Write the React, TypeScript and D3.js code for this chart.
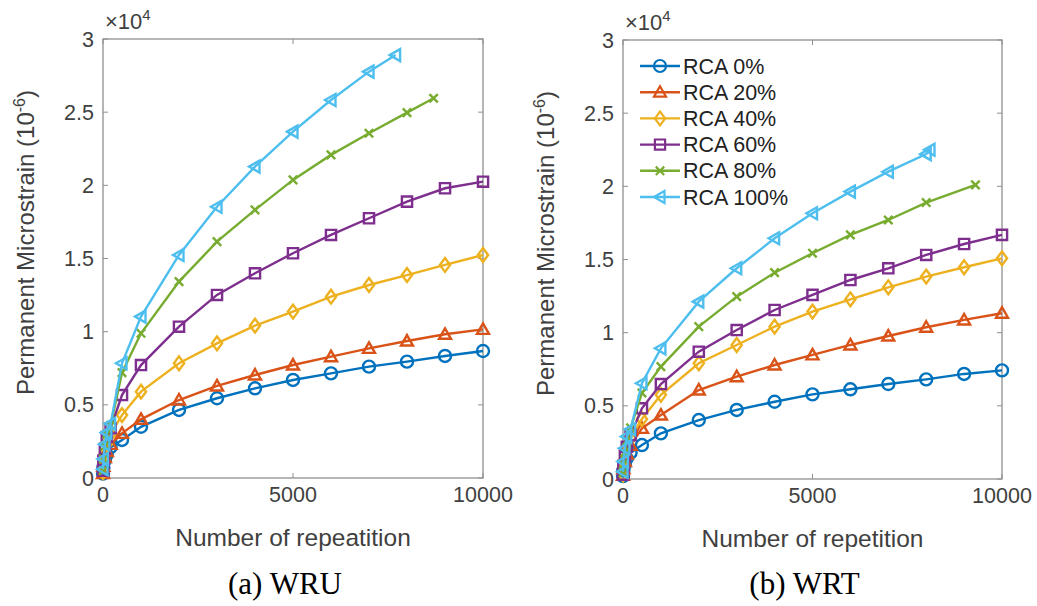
import React from "react";
import * as d3 from "d3";

// repetition counts (x values)
const reps = [1, 10, 50, 100, 200, 500, 1000, 2000, 3000, 4000, 5000, 6000, 7000, 8000, 9000, 10000];
const repsWru80 = [1, 10, 50, 100, 200, 500, 1000, 2000, 3000, 4000, 5000, 6000, 7000, 8000, 8700];
const repsWru100 = [1, 10, 50, 100, 200, 500, 1000, 2000, 3000, 4000, 5000, 6000, 7000, 7700];
const repsWrt80 = [1, 10, 50, 100, 200, 500, 1000, 2000, 3000, 4000, 5000, 6000, 7000, 8000, 9300];
const repsWrt100 = [1, 10, 50, 100, 200, 500, 1000, 2000, 3000, 4000, 5000, 6000, 7000, 8000, 8100];

// (a) WRU permanent microstrain
const wru0 = [300, 700, 1200, 1600, 2100, 2600, 3500, 4650, 5450, 6130, 6700, 7150, 7610, 7950, 8340, 8680];
const wru20 = [300, 800, 1400, 1800, 2300, 3050, 4010, 5330, 6290, 7040, 7720, 8290, 8860, 9360, 9820, 10160];
const wru40 = [400, 1000, 1700, 2300, 3000, 4300, 5900, 7840, 9200, 10410, 11370, 12390, 13190, 13870, 14560, 15240];
const wru60 = [500, 1200, 2000, 2800, 3400, 5670, 7720, 10340, 12510, 13990, 15360, 16610, 17750, 18890, 19800, 20250];
const wru80 = [500, 1300, 2200, 3000, 3600, 7200, 9890, 13420, 16150, 18320, 20370, 22080, 23560, 24970, 25950];
const wru100 = [600, 1300, 2300, 3100, 3700, 7840, 11030, 15240, 18540, 21280, 23670, 25830, 27770, 28900];

// (b) WRT permanent microstrain
const wrt0 = [200, 600, 1000, 1400, 1800, 2320, 3120, 4030, 4720, 5280, 5780, 6130, 6490, 6810, 7180, 7420];
const wrt20 = [250, 700, 1200, 1700, 2300, 3460, 4370, 6080, 6990, 7790, 8480, 9160, 9770, 10370, 10870, 11330];
const wrt40 = [300, 800, 1400, 2000, 2800, 4100, 5750, 7910, 9160, 10410, 11440, 12280, 13100, 13830, 14470, 15080];
const wrt60 = [300, 900, 1600, 2200, 3000, 4830, 6490, 8700, 10180, 11550, 12580, 13600, 14400, 15310, 16060, 16680];
const wrt80 = [400, 1000, 1800, 2600, 3500, 5880, 7680, 10410, 12460, 14100, 15430, 16680, 17700, 18890, 20100];
const wrt100 = [500, 1200, 2100, 2900, 3400, 6540, 8930, 12120, 14400, 16450, 18160, 19640, 21000, 22200, 22500];

const seriesNames = ["RCA 0%", "RCA 20%", "RCA 40%", "RCA 60%", "RCA 80%", "RCA 100%"];
const seriesColors = ["#0072BD", "#D95319", "#EDB120", "#7E2F8E", "#77AC30", "#4DBEEE"];
const seriesMarkers = ["circle", "triUp", "diamond", "square", "cross", "triLeft"];

const xTicks = [0, 5000, 10000];
const yTicks = [0, 5000, 10000, 15000, 20000, 25000, 30000];
const yTickLabels = ["0", "0.5", "1", "1.5", "2", "2.5", "3"];

const wruX = [reps, reps, reps, reps, repsWru80, repsWru100];
const wruY = [wru0, wru20, wru40, wru60, wru80, wru100];
const wrtX = [reps, reps, reps, reps, repsWrt80, repsWrt100];
const wrtY = [wrt0, wrt20, wrt40, wrt60, wrt80, wrt100];

const FONT = "'Liberation Sans', Arial, sans-serif";
const AXIS = "#8f8f8f";
const TXT = "#404040";

function markerPath(kind: string, r: number) {
  switch (kind) {
    case "circle":
      return `M${r},0A${r},${r} 0 1,1 ${-r},0A${r},${r} 0 1,1 ${r},0Z`;
    case "triUp":
      return `M0,${-r}L${r},${r * 0.75}L${-r},${r * 0.75}Z`;
    case "triLeft":
      return `M${-r},0L${r * 0.75},${-r}L${r * 0.75},${r}Z`;
    case "diamond":
      return `M0,${-r * 1.15}L${r * 0.85},0L0,${r * 1.15}L${-r * 0.85},0Z`;
    case "square":
      return `M${-r * 0.85},${-r * 0.85}H${r * 0.85}V${r * 0.85}H${-r * 0.85}Z`;
    case "cross":
      return `M${-r * 0.7},${-r * 0.7}L${r * 0.7},${r * 0.7}M${-r * 0.7},${r * 0.7}L${r * 0.7},${-r * 0.7}`;
  }
  return "";
}

type PanelProps = {
  left: number;
  top: number;
  width: number;
  height: number;
  xs: number[][];
  ys: number[][];
  xTitle: string;
  caption: string;
  legend?: boolean;
};

function Panel({ left, top, width, height, xs, ys, xTitle, caption, legend }: PanelProps) {
  const x = d3.scaleLinear().domain([0, 10000]).range([left, left + width]);
  const y = d3.scaleLinear().domain([0, 30000]).range([top + height, top]);
  const line = d3
    .line<[number, number]>()
    .x((d) => x(d[0]))
    .y((d) => y(d[1]));

  return (
    <g>
      {/* axes box */}
      <rect x={left} y={top} width={width} height={height} fill="none" stroke={AXIS} strokeWidth={1.3} />
      {xTicks.map((t) => (
        <g key={"xt" + t}>
          <line x1={x(t)} x2={x(t)} y1={top + height} y2={top + height - 5} stroke={AXIS} />
          <line x1={x(t)} x2={x(t)} y1={top} y2={top + 5} stroke={AXIS} />
          <text x={x(t)} y={top + height + 24} textAnchor="middle" fontSize={21.5} fill={TXT} fontFamily={FONT}>
            {t}
          </text>
        </g>
      ))}
      {yTicks.map((t, i) => (
        <g key={"yt" + t}>
          <line x1={left} x2={left + 5} y1={y(t)} y2={y(t)} stroke={AXIS} />
          <line x1={left + width} x2={left + width - 5} y1={y(t)} y2={y(t)} stroke={AXIS} />
          <text x={left - 9} y={y(t) + 7.5} textAnchor="end" fontSize={21.5} fill={TXT} fontFamily={FONT}>
            {yTickLabels[i]}
          </text>
        </g>
      ))}
      <text x={left + 2} y={top - 10} fontSize={22} fill={TXT} fontFamily={FONT}>
        ×10
        <tspan dy={-9} fontSize={15}>
          4
        </tspan>
      </text>
      <text
        x={x(5000)}
        y={top + height + 68}
        textAnchor="middle"
        fontSize={24.5}
        fill={TXT}
        fontFamily={FONT}
      >
        {xTitle}
      </text>
      <text
        transform={`translate(${left - 69},${top + height / 2 - 16}) rotate(-90)`}
        textAnchor="middle"
        fontSize={24}
        fill={TXT}
        fontFamily={FONT}
      >
        Permanent Microstrain (10
        <tspan dy={-9} fontSize={16}>
          -6
        </tspan>
        <tspan dy={9}>)</tspan>
      </text>

      {/* series */}
      {ys.map((vals, s) => {
        const pts = vals.map((v, i) => [xs[s][i], v] as [number, number]);
        return (
          <g key={"s" + s}>
            <path d={line(pts) || ""} fill="none" stroke={seriesColors[s]} strokeWidth={2.4} />
            {pts.map((p, i) => (
              <path
                key={i}
                transform={`translate(${x(p[0])},${y(p[1])})`}
                d={markerPath(seriesMarkers[s], 6)}
                fill="none"
                stroke={seriesColors[s]}
                strokeWidth={2.4}
              />
            ))}
          </g>
        );
      })}

      {legend &&
        seriesNames.map((name, s) => {
          const ly = top + 26 + s * 26.2;
          return (
            <g key={"lg" + s}>
              <line x1={left + 17} x2={left + 57} y1={ly} y2={ly} stroke={seriesColors[s]} strokeWidth={2.4} />
              <path
                transform={`translate(${left + 37},${ly})`}
                d={markerPath(seriesMarkers[s], 6)}
                fill="none"
                stroke={seriesColors[s]}
                strokeWidth={2.2}
              />
              <text x={left + 60} y={ly + 7.5} fontSize={21.5} fill="#222" fontFamily={FONT}>
                {name}
              </text>
            </g>
          );
        })}

      <text
        x={x(5000) - 8}
        y={594}
        textAnchor="middle"
        fontSize={31}
        fill="#000"
        fontFamily="'Liberation Serif', 'Times New Roman', serif"
      >
        {caption}
      </text>
    </g>
  );
}

export default function App() {
  return (
    <div style={{ position: "absolute", left: 0, top: 0 }}>
      <svg width={1037} height={606} style={{ display: "block", background: "#fff" }}>
        <Panel
          left={103}
          top={39}
          width={380}
          height={439}
          xs={wruX}
          ys={wruY}
          xTitle="Number of repeatition"
          caption="(a) WRU"
        />
        <Panel
          left={623}
          top={40}
          width={379}
          height={439}
          xs={wrtX}
          ys={wrtY}
          xTitle="Number of repetition"
          caption="(b) WRT"
          legend
        />
      </svg>
    </div>
  );
}
